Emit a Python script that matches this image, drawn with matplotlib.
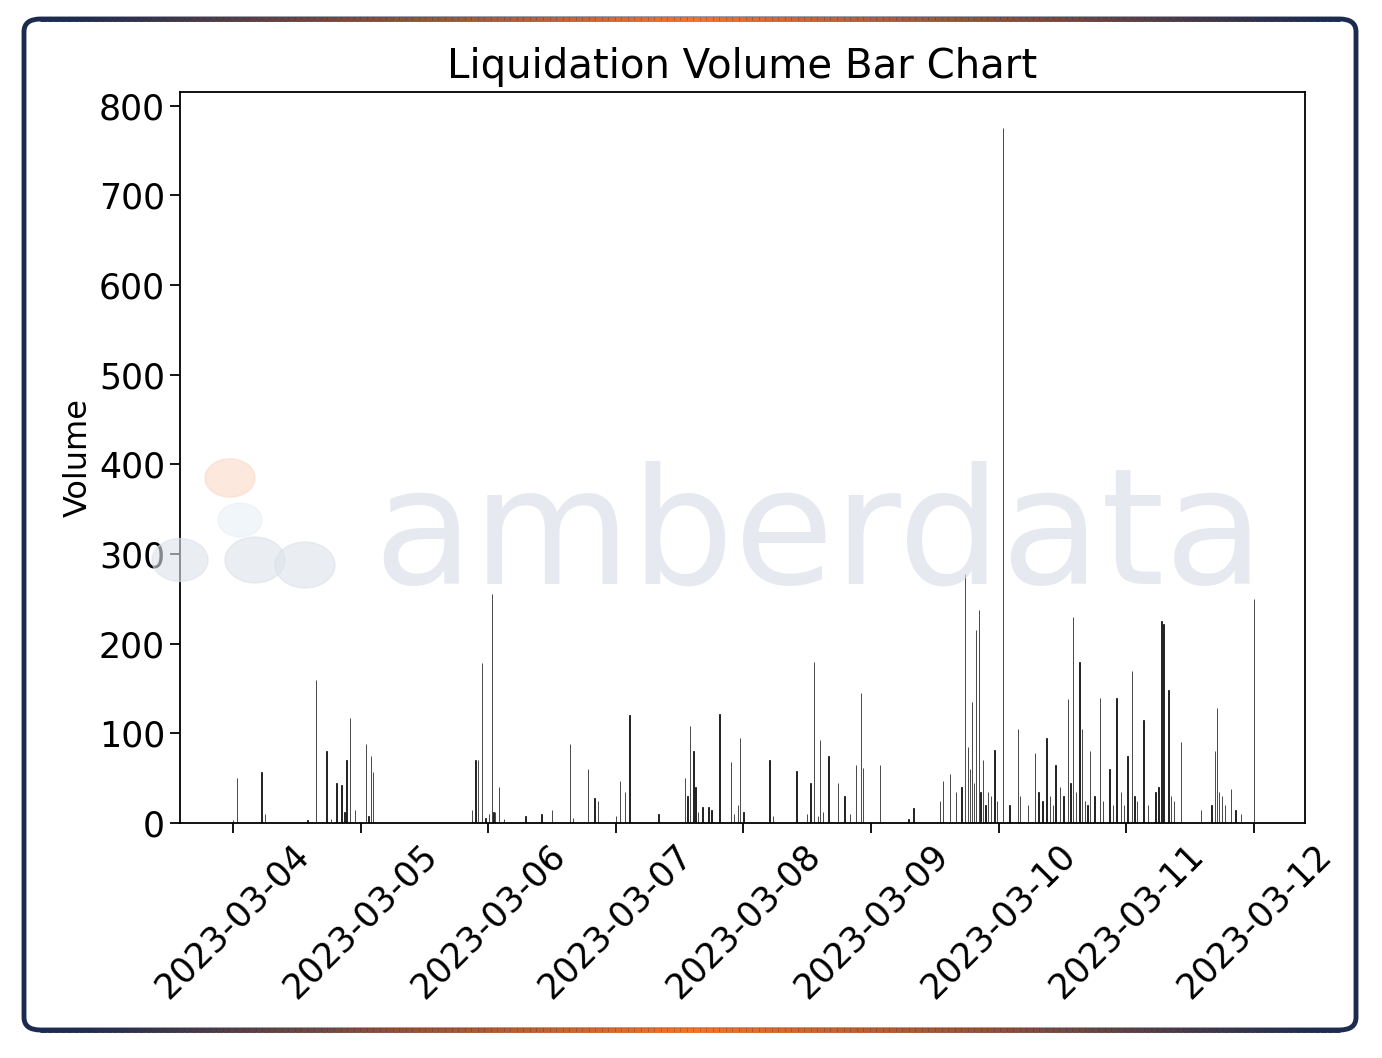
import matplotlib.pyplot as plt
import matplotlib.dates as mdates
from matplotlib.patches import FancyBboxPatch, Circle
from matplotlib.collections import LineCollection
import numpy as np
import pandas as pd

# hours after 2023-03-04 00:00 and liquidation volume
big_hours = [0.75, 5.4, 6, 15.6, 17.6, 19.5, 20.4, 21.4, 22, 25, 26, 26.4,
             45.6, 46.1, 46.9, 48.75, 50, 49.3, 63.4, 66.75, 68, 68.6, 72.75, 73.7, 74.6,
             86, 86.6, 87, 88.3, 89.4, 91.5, 93.6, 95, 95.4, 100.9, 106, 108.6, 109.3,
             110.4, 112, 113.8, 115, 117.2, 118.1, 118.5, 121.7, 128, 133.5, 134.8, 136,
             137.6, 139, 139.7, 140.25, 141, 142, 143.2, 144.75, 147.6, 150.8, 153, 154.7,
             157, 158, 159.2, 159.7, 161.2, 163, 164.8, 166.1, 168.2, 169, 171.2, 174.6,
             175, 175.9, 178.3, 184.7, 185, 187.7, 192]
big_vols = [50, 57, 10, 160, 80, 45, 42, 70, 117, 88, 75, 57,
            70, 70, 178, 255, 40, 12, 88, 60, 28, 25, 47, 35, 120,
            108, 80, 40, 18, 18, 122, 68, 20, 95, 70, 58, 45, 180,
            93, 75, 45, 30, 65, 145, 62, 65, 17, 47, 55, 35,
            278, 135, 215, 238, 70, 35, 82, 775, 105, 78, 95, 65,
            138, 230, 180, 105, 80, 140, 60, 140, 75, 170, 115, 225,
            222, 148, 90, 80, 128, 38, 250]
small_hours = [0, 14, 18.5, 21, 23, 25.5, 45, 47.5, 48.2, 49, 51, 55, 58, 60, 64,
               72, 80, 85, 85.5, 87.5, 90, 94.2, 96, 101.5, 108, 110, 111, 116,
               127, 133, 137, 138.2, 138.6, 139.4, 140.6, 141.5, 142.5, 143.7, 146,
               148, 149.5, 151.5, 152.2, 153.6, 154.2, 155.5, 156.2, 157.5, 158.5,
               160.2, 160.7, 162, 163.6, 165.5, 167, 167.6, 169.5, 170, 172, 173.5,
               174, 176.4, 177, 182, 184, 185.4, 186, 186.5, 188.5, 189.5]
small_vols = [3, 4, 5, 12, 15, 8, 15, 6, 10, 12, 5, 8, 10, 15, 6,
              8, 10, 50, 30, 12, 15, 10, 12, 8, 10, 8, 12, 10,
              5, 25, 40, 85, 60, 45, 35, 20, 30, 25, 20,
              30, 20, 35, 25, 30, 20, 40, 30, 45, 35,
              25, 20, 30, 25, 20, 35, 20, 30, 25, 20, 35,
              40, 30, 25, 15, 20, 35, 30, 20, 15, 10]

start = pd.Timestamp("2023-03-04")
times = [start + pd.Timedelta(hours=h) for h in big_hours + small_hours]
vols = big_vols + small_vols

fig = plt.figure(figsize=(13.82, 10.58), dpi=100)
ax = fig.add_axes([0.130, 0.222, 0.814, 0.691])

ax.bar(times, vols, width=0.003, color="black", edgecolor="black", linewidth=0.5)
ax.set_title("Liquidation Volume Bar Chart", fontsize=29, pad=10)
ax.set_ylabel("Volume", fontsize=23)
ax.set_ylim(0, 815)
ax.set_yticks(range(0, 801, 100))
ax.set_xlim(start - pd.Timedelta(hours=10), start + pd.Timedelta(hours=201.5))
ax.xaxis.set_major_locator(mdates.DayLocator())
ax.xaxis.set_major_formatter(mdates.DateFormatter("%Y-%m-%d"))
ax.tick_params(axis="y", labelsize=25, length=7, width=1.3)
ax.tick_params(axis="x", labelsize=25, length=7, width=1.3)
plt.setp(ax.get_xticklabels(), rotation=45)
for s in ax.spines.values():
    s.set_linewidth(1.3)

# watermark
fig.text(0.27, 0.49, "amberdata", fontsize=117, color="#d9dee7", alpha=0.65,
         zorder=10, va="center")
for (cx, cy, r, c) in [(230, 478, 25, "#fbd9c7"), (180, 560, 28, "#dde2ea"),
                      (255, 560, 30, "#dde2ea"), (305, 565, 30, "#dde2ea"),
                      (240, 520, 22, "#e6f0f6")]:
    fig.patches.append(Circle((cx / 1382, 1 - cy / 1058), r / 1382,
                              transform=fig.transFigure, color=c, alpha=0.6,
                              zorder=10))

# frame
fig.patches.append(FancyBboxPatch((24 / 1382, 28 / 1058), 1332 / 1382, 1011 / 1058,
                                  boxstyle="round,pad=0,rounding_size=0.012",
                                  transform=fig.transFigure, fill=False,
                                  edgecolor="#1d2b4f", linewidth=3.5))
xs = np.linspace(40 / 1382, 1340 / 1382, 200)
cols = []
for t in xs:
    k = 1 - abs((t - 0.5) / 0.45)
    k = max(0, min(1, k))
    a = np.array([0.11, 0.17, 0.31])
    b = np.array([0.97, 0.45, 0.15])
    cols.append(a + (b - a) * k)
for y in (28 / 1058, 1039 / 1058):
    segs = [[(xs[i], y), (xs[i + 1], y)] for i in range(len(xs) - 1)]
    fig.add_artist(LineCollection(segs, colors=cols[:-1], linewidths=3.5,
                                  transform=fig.transFigure))

fig.savefig("out.png", dpi=100, facecolor="white")
